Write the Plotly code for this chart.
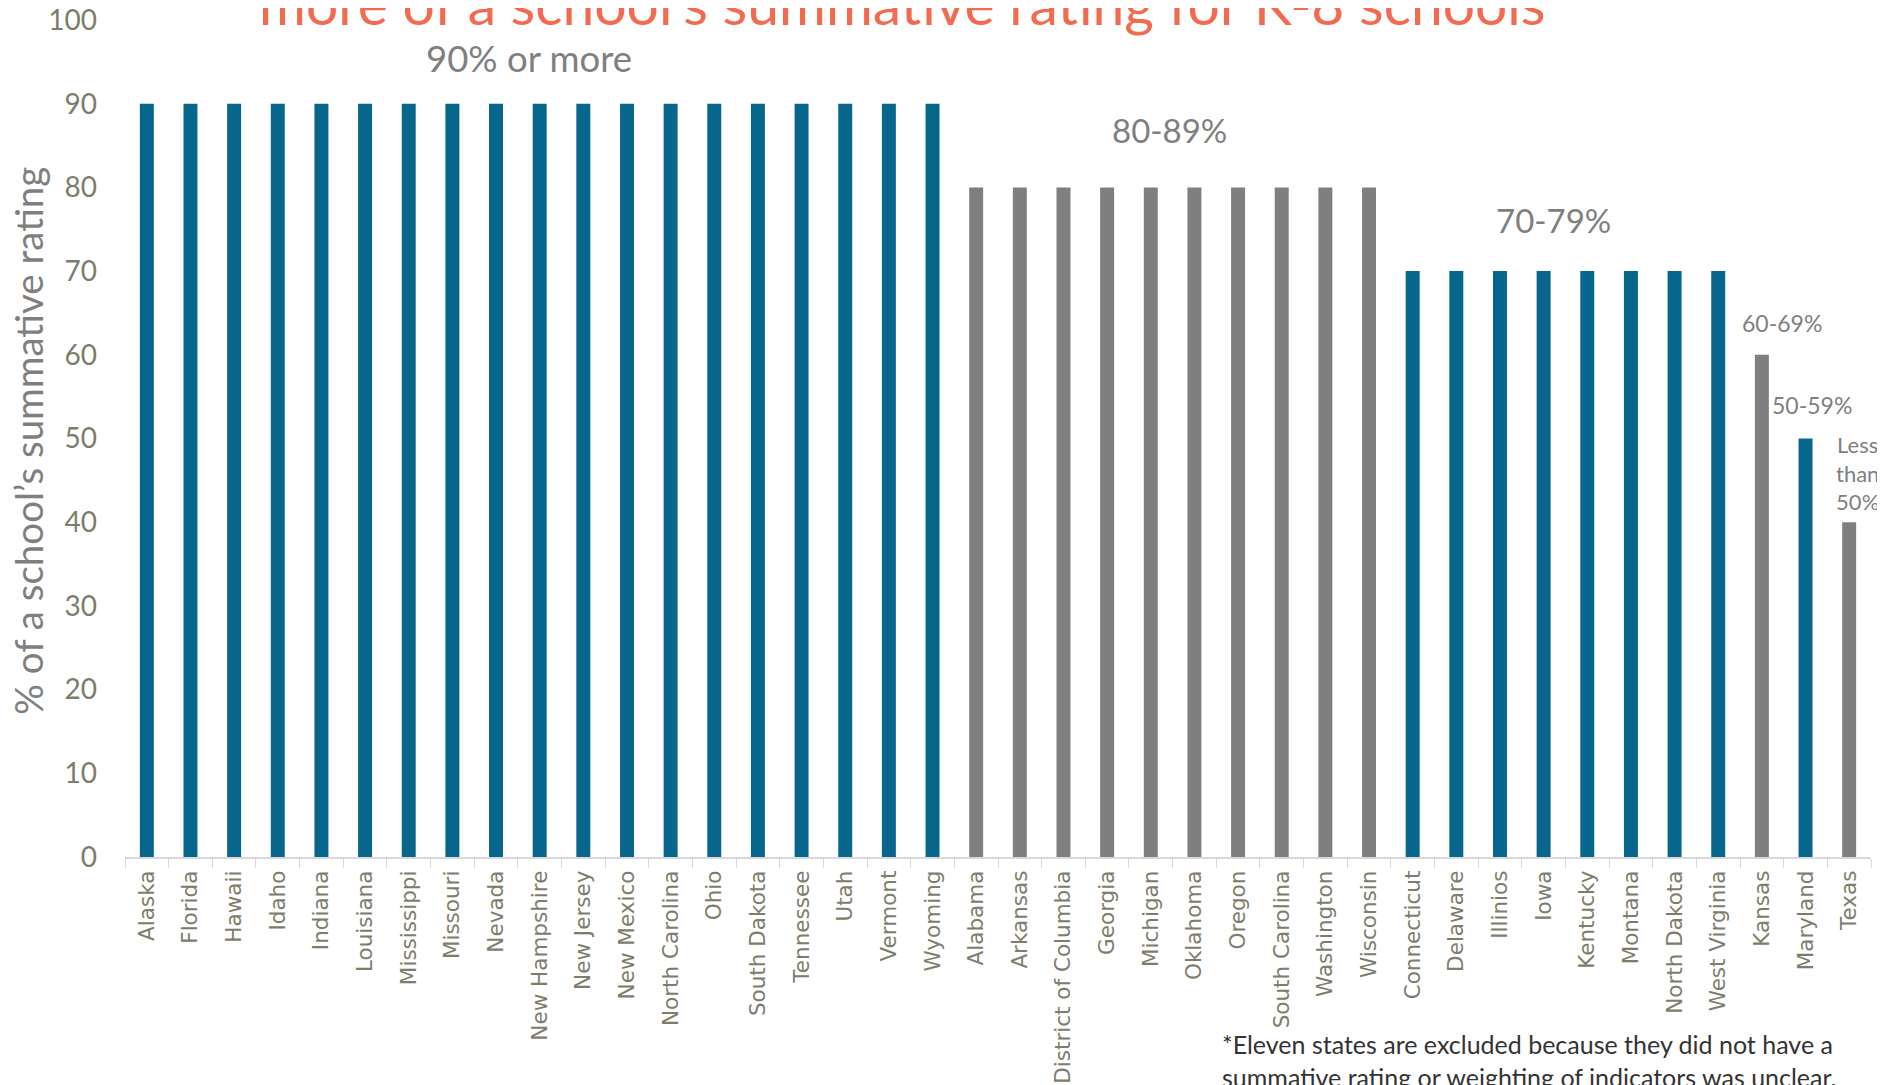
import plotly.graph_objects as go

states = ["Alaska", "Florida", "Hawaii", "Idaho", "Indiana", "Louisiana", "Mississippi",
          "Missouri", "Nevada", "New Hampshire", "New Jersey", "New Mexico", "North Carolina",
          "Ohio", "South Dakota", "Tennessee", "Utah", "Vermont", "Wyoming",
          "Alabama", "Arkansas", "District of Columbia", "Georgia", "Michigan", "Oklahoma",
          "Oregon", "South Carolina", "Washington", "Wisconsin",
          "Connecticut", "Delaware", "Illinios", "Iowa", "Kentucky", "Montana",
          "North Dakota", "West Virginia",
          "Kansas", "Maryland", "Texas"]
values = [90] * 19 + [80] * 10 + [70] * 8 + [60, 50, 40]
groups = ["blue"] * 19 + ["gray"] * 10 + ["blue"] * 8 + ["gray", "blue", "gray"]
y_ticks = [0, 10, 20, 30, 40, 50, 60, 70, 80, 90, 100]

BLUE = "#06668C"
GRAY = "#7F7F7F"
LABEL = "#7D7D6C"
FONT = "Lato"

colors = [BLUE if g == "blue" else GRAY for g in groups]

fig = go.Figure(go.Bar(x=states, y=values, marker=dict(color=colors, line=dict(width=0)),
                       hoverinfo="x+y"))

# the page body adds an 8px offset; margins compensate for it
fig.update_layout(
    width=1885, height=1085,
    margin=dict(l=117, r=22, t=12, b=236),
    paper_bgcolor="white", plot_bgcolor="white",
    bargap=0.68,
    showlegend=False,
    xaxis=dict(
        tickangle=-90, tickfont=dict(family="DejaVu Sans", size=21.5, color=LABEL),
        showline=True, linecolor="#D9D9D9", linewidth=2,
        ticks="outside", tickson="boundaries", ticklen=9, tickcolor="#D9D9D9", tickwidth=1,
        ticklabelstandoff=3,
        showgrid=False, automargin=False,
    ),
    yaxis=dict(
        range=[0, 100], tickvals=y_ticks, ticktext=[str(v) for v in y_ticks],
        tickfont=dict(family=FONT, size=28, color=LABEL),
        showgrid=False, showline=False, zeroline=False, ticks="",
        ticklabelstandoff=27, ticklabeloverflow="allow", automargin=False,
    ),
)

ann = []
ann.append(dict(text="more of a school\u2019s summative rating for K-8 schools",
                xref="paper", yref="paper", x=0.445, y=0.977, xanchor="center", yanchor="bottom",
                showarrow=False, font=dict(family=FONT, size=57, color="#F26B50")))
ann.append(dict(text="% of a school\u2019s summative rating", textangle=-90,
                xref="paper", yref="paper", x=-0.0556, y=0.497, xanchor="center", yanchor="middle",
                showarrow=False, font=dict(family=FONT, size=38.5, color=GRAY)))
for txt, x, y, s in [("90% or more", 0.2314, 0.955, 36.5), ("80-89%", 0.598, 0.869, 33),
                     ("70-79%", 0.818, 0.761, 33), ("60-69%", 0.949, 0.638, 23),
                     ("50-59%", 0.966, 0.540, 23)]:
    ann.append(dict(text=txt, xref="paper", yref="paper", x=x, y=y, xanchor="center",
                    yanchor="middle", showarrow=False, font=dict(family=FONT, size=s, color=GRAY)))
ann.append(dict(text="Less<br>than<br>50%", xref="paper", yref="paper", x=0.9925, y=0.4588,
                xanchor="center", yanchor="middle", align="center", showarrow=False,
                font=dict(family=FONT, size=22, color=GRAY)))
ann.append(dict(text="*Eleven states are excluded because they did not have a<br>summative rating or weighting of indicators was unclear.",
                xref="paper", yref="paper", x=0.627, y=-0.2437, xanchor="left", yanchor="middle",
                align="left", showarrow=False, font=dict(family=FONT, size=25, color="#333333")))
fig.update_layout(annotations=ann)

fig.write_html("out.html")
